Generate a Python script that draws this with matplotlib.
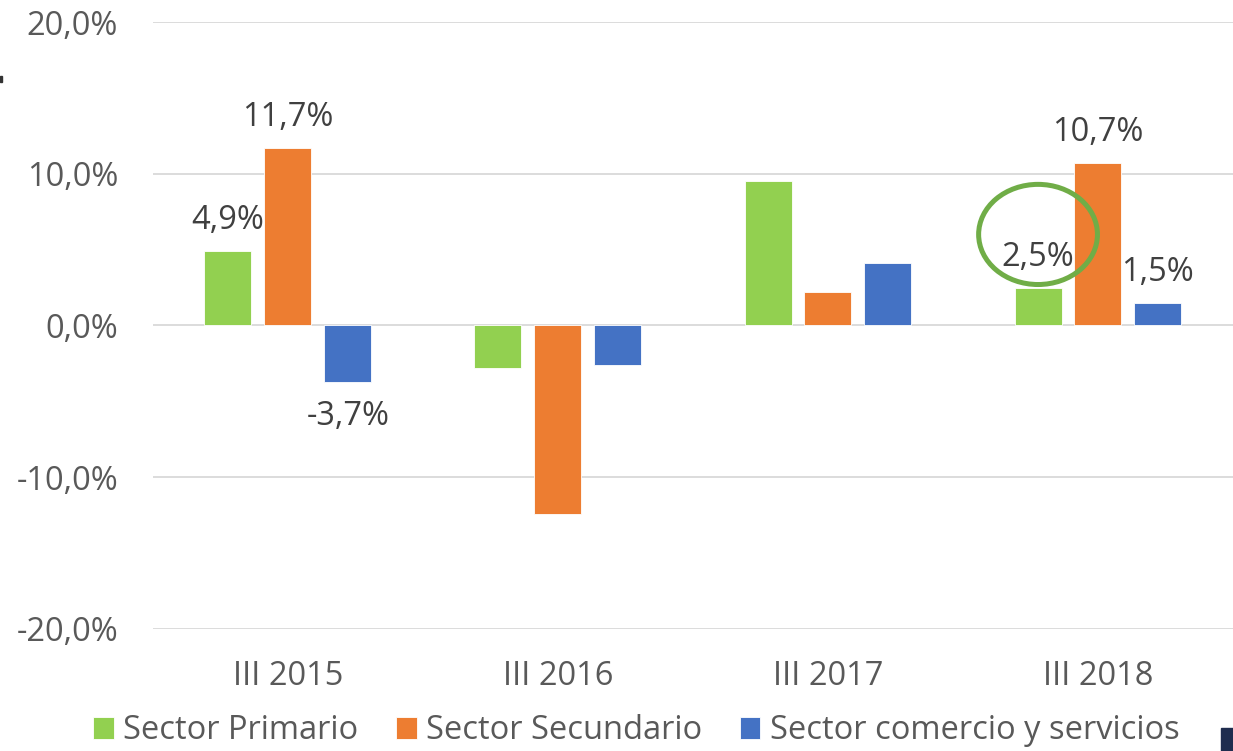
import matplotlib
matplotlib.use("Agg")
import matplotlib.pyplot as plt
import numpy as np
from matplotlib.patches import Ellipse, Rectangle

# --- DATOS ---
categorias = ["III 2015", "III 2016", "III 2017", "III 2018"]
primario = [4.9, -2.8, 9.5, 2.5]
secundario = [11.7, -12.4, 2.2, 10.7]
comercio = [-3.7, -2.6, 4.1, 1.5]
etiquetas_primario = ["4,9%", None, None, "2,5%"]
etiquetas_secundario = ["11,7%", None, None, "10,7%"]
etiquetas_comercio = ["-3,7%", None, None, "1,5%"]
yticks = [-20, -10, 0, 10, 20]

plt.rcParams['font.family'] = ['Open Sans', 'DejaVu Sans']

verde = '#92D050'
naranja = '#ED7D31'
azul = '#4472C4'
gris_txt = '#595959'
gris_lbl = '#404040'
fs = 23.5

fig = plt.figure(figsize=(12.33, 7.51), dpi=100)
ax = fig.add_axes([0.124, 0.1625, 0.876, 0.8082])

x = np.arange(len(categorias))
w = 0.174
paso = 0.222
series = [(primario, verde, "Sector Primario", etiquetas_primario),
          (secundario, naranja, "Sector Secundario", etiquetas_secundario),
          (comercio, azul, "Sector comercio y servicios", etiquetas_comercio)]

handles = []
for i, (vals, col, nombre, etqs) in enumerate(series):
    pos = x + (i - 1) * paso
    b = ax.bar(pos, vals, width=w, color=col, edgecolor='white', linewidth=0.6,
               label=nombre, zorder=3)
    handles.append(b)
    for p, v, t in zip(pos, vals, etqs):
        if t is None:
            continue
        if v >= 0:
            ax.annotate(t, (p, v), xytext=(0, 10), textcoords='offset points',
                        ha='center', va='bottom', fontsize=fs, color=gris_lbl)
        else:
            ax.annotate(t, (p, v), xytext=(0, -13), textcoords='offset points',
                        ha='center', va='top', fontsize=fs, color=gris_lbl)

# circulo verde alrededor de 2,5%
ax.add_patch(Ellipse((x[3] - paso, 6.0), width=0.44, height=6.6, fill=False,
                     edgecolor='#70AD47', linewidth=3.6, zorder=5))

ax.set_xlim(-0.5, 3.5)
ax.set_ylim(-20, 20)
ax.set_yticks(yticks)
ax.set_yticklabels([f"{v:.1f}%".replace(".", ",") for v in yticks])
ax.set_xticks(x)
ax.set_xticklabels(categorias)
ax.tick_params(axis='both', length=0, labelsize=fs, colors=gris_txt)
ax.tick_params(axis='y', pad=25)
ax.tick_params(axis='x', pad=22)
ax.grid(axis='y', color='#D9D9D9', linewidth=1.3, zorder=0)
for s in ax.spines.values():
    s.set_visible(False)

fig.legend(handles=handles, loc='center', bbox_to_anchor=(0.516, 0.027), ncol=3,
           frameon=False, fontsize=fs, labelcolor=gris_txt, handlelength=0.64,
           handleheight=0.64, handletextpad=0.28, columnspacing=1.15,
           borderpad=0)

# marcas sueltas en los bordes
fig.add_artist(Rectangle((0, 0.891), 0.002, 0.008, transform=fig.transFigure,
                         color='#333333'))
fig.add_artist(Rectangle((0.99, 0.0), 0.01, 0.03, transform=fig.transFigure,
                         color='#1F2D4F'))

fig.savefig("out.png", dpi=100)
